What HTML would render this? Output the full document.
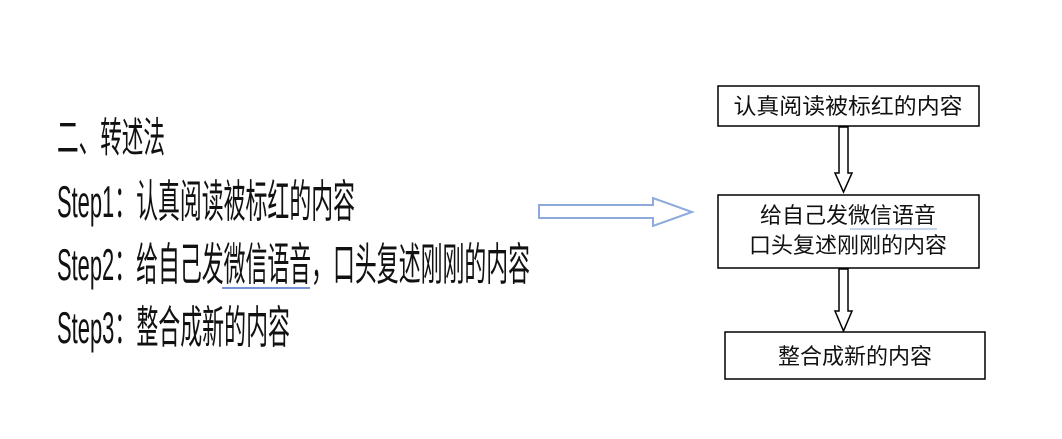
<!DOCTYPE html>
<html><head><meta charset="utf-8"><style>
html,body{margin:0;padding:0;background:#fff;}
svg{display:block;}
</style></head><body>
<svg width="1062" height="439" viewBox="0 0 1062 439" xmlns="http://www.w3.org/2000/svg">
<g font-family="'Liberation Sans','Noto Sans CJK SC',sans-serif" fill="#111">
  <g transform="translate(57,152) scale(1,1.6)"><text x="0" y="0" font-size="26" textLength="108" lengthAdjust="spacingAndGlyphs">二、转述法</text></g>
  <g transform="translate(57,217) scale(1,1.6)"><text x="0" y="0" font-size="28" textLength="298" lengthAdjust="spacingAndGlyphs">Step1：认真阅读被标红的内容</text></g>
  <g transform="translate(57,280) scale(1,1.6)"><text x="0" y="0" font-size="28" textLength="473" lengthAdjust="spacingAndGlyphs">Step2：给自己发微信语音，口头复述刚刚的内容</text></g>
  <g transform="translate(57,343) scale(1,1.6)"><text x="0" y="0" font-size="28" textLength="233" lengthAdjust="spacingAndGlyphs">Step3：整合成新的内容</text></g>
</g>
<line x1="222" y1="288" x2="310" y2="288" stroke="#4472c4" stroke-width="1.5"/>

<polygon points="539,205 653,205 653,198 692,212 653,226 653,218 539,218" fill="none" stroke="#8eaadb" stroke-width="2"/>

<g fill="none" stroke="#000" stroke-width="1.5">
  <rect x="718" y="86" width="261" height="40"/>
  <rect x="718" y="195" width="261" height="73"/>
  <rect x="725" y="332" width="260" height="47"/>
  <polygon points="839,127 848,127 848,173 852,173 843.5,192 835,173 839,173"/>
  <polygon points="839,269 848,269 848,311 852,311 843.5,331 835,311 839,311"/>
</g>
<g font-family="'Liberation Sans','Noto Sans CJK SC',sans-serif" font-size="22" fill="#111" text-anchor="middle">
  <text x="848" y="114" textLength="229" lengthAdjust="spacingAndGlyphs">认真阅读被标红的内容</text>
  <text x="848" y="223">给自己发微信语音</text>
  <text x="848" y="253">口头复述刚刚的内容</text>
  <text x="855" y="364">整合成新的内容</text>
</g>
<line x1="850" y1="229" x2="937" y2="229" stroke="#8eaadb" stroke-width="1"/>
</svg>
</body></html>
